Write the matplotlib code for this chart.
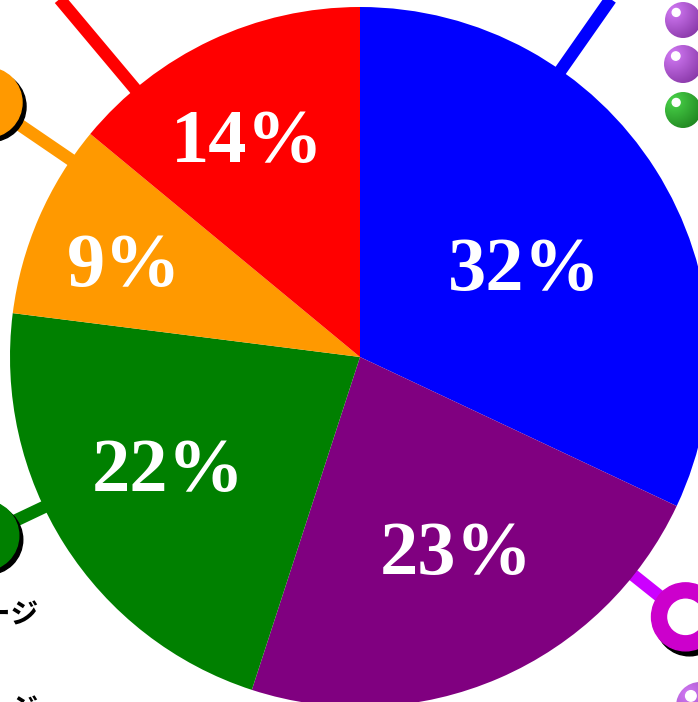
import matplotlib.pyplot as plt
from matplotlib.patches import Circle, Wedge
import numpy as np

# slice data (clockwise from 12 o'clock)
shares = [32, 23, 22, 9, 14]
colors = ['#0000ff', '#800080', '#008000', '#ff9900', '#ff0000']
label_dist = [0.53, 0.63, 0.64, 0.72, 0.69]
label_shift = [-5, 2.5, -1.5, 2.5, 2.5]

# callout lines: angle (deg), end radius (fraction of pie radius), colour
call_angle = [55, -38.6, -154.6, 145.7, 130]
call_end = [1.6, 1.19, 1.19, 1.29, 1.6]
call_color = ['#0000ff', '#cc00ff', '#008000', '#ff9900', '#ff0000']
call_marker = [None, 'ring', 'dot', 'dot', None]
marker_color = [None, '#cc00cc', '#008000', '#ff9900', None]

side_labels = ['パーセンテージ', 'パーセンテージ']

W, H = 698, 702
cx, cy, R = 360, 345, 350

fig = plt.figure(figsize=(W / 100, H / 100), dpi=100)
ax = fig.add_axes([0, 0, 1, 1])

# callout lines first, pie on top
for ang, end, col, mk, mcol in zip(call_angle, call_end, call_color, call_marker, marker_color):
    a = np.radians(ang)
    x0, y0 = cx + 0.9 * R * np.cos(a), cy + 0.9 * R * np.sin(a)
    x1, y1 = cx + end * R * np.cos(a), cy + end * R * np.sin(a)
    stop = end * R - (30 if mk == 'ring' else 0)
    xs, ys = cx + stop * np.cos(a), cy + stop * np.sin(a)
    ax.plot([x0, xs], [y0, ys], color=col, lw=9, solid_capstyle='butt', zorder=1)
    if mk == 'dot':
        ax.add_patch(Circle((x1 + 4, y1 - 4), 35, color='black', zorder=2))
        ax.add_patch(Circle((x1, y1), 35, color=mcol, zorder=3))
    elif mk == 'ring':
        ax.add_patch(Wedge((x1 + 4, y1 - 5), 34, 0, 360, width=14, color='black', zorder=2))
        ax.add_patch(Circle((x1, y1), 20, color='white', zorder=2.5))
        ax.add_patch(Wedge((x1, y1), 34, 0, 360, width=15, color=mcol, zorder=3))

wedges, texts, autotexts = ax.pie(
    shares, colors=colors, startangle=90, counterclock=False,
    center=(cx, cy), radius=R, autopct='%d%%', pctdistance=0.6,
    wedgeprops=dict(linewidth=0), frame=True)
for w in wedges:
    w.set_zorder(5)

for w, t, d, s in zip(wedges, autotexts, label_dist, label_shift):
    mid = np.radians((w.theta1 + w.theta2) / 2 + s)
    t.set_position((cx + d * R * np.cos(mid), cy + d * R * np.sin(mid)))
    t.set_ha('center')
    t.set_va('center')
    t.set_fontfamily('Liberation Serif')
    t.set_fontweight('bold')
    t.set_fontsize(55)
    t.set_color('white')
    t.set_zorder(6)


def sphere(x, y, r, light, dark):
    n = 100
    gx, gy = np.meshgrid(np.linspace(-1, 1, n), np.linspace(1, -1, n))
    d = np.clip(np.hypot(gx + 0.5, gy - 0.5) / 2.0, 0, 1)
    c1 = np.array(plt.matplotlib.colors.to_rgb(light))
    c2 = np.array(plt.matplotlib.colors.to_rgb(dark))
    img = c1 + (c2 - c1) * d[..., None]
    im = ax.imshow(img, extent=[x - r, x + r, y - r, y + r], zorder=7, interpolation='bilinear')
    clip = Circle((x, y), r, transform=ax.transData)
    im.set_clip_path(clip)
    ax.add_patch(Circle((x - 0.38 * r, y + 0.42 * r), 0.22 * r, color='white', zorder=8))


sphere(683, 682, 18, '#d27af5', '#7e2e9c')
sphere(683, 638, 19, '#d27af5', '#7e2e9c')
sphere(683, 592, 18, '#4ad44a', '#1a7a1a')
sphere(700, -4, 24, '#d27af5', '#7e2e9c')

for lab, yy in zip(side_labels, [88, -7]):
    ax.text(38, yy, lab, ha='right', va='center', fontsize=20, fontweight='bold',
            family=['Noto Sans CJK JP', 'DejaVu Sans'], zorder=9)

ax.set_xlim(0, W)
ax.set_ylim(0, H)
ax.set_aspect('equal')
ax.axis('off')
fig.savefig('out.png', dpi=100)
